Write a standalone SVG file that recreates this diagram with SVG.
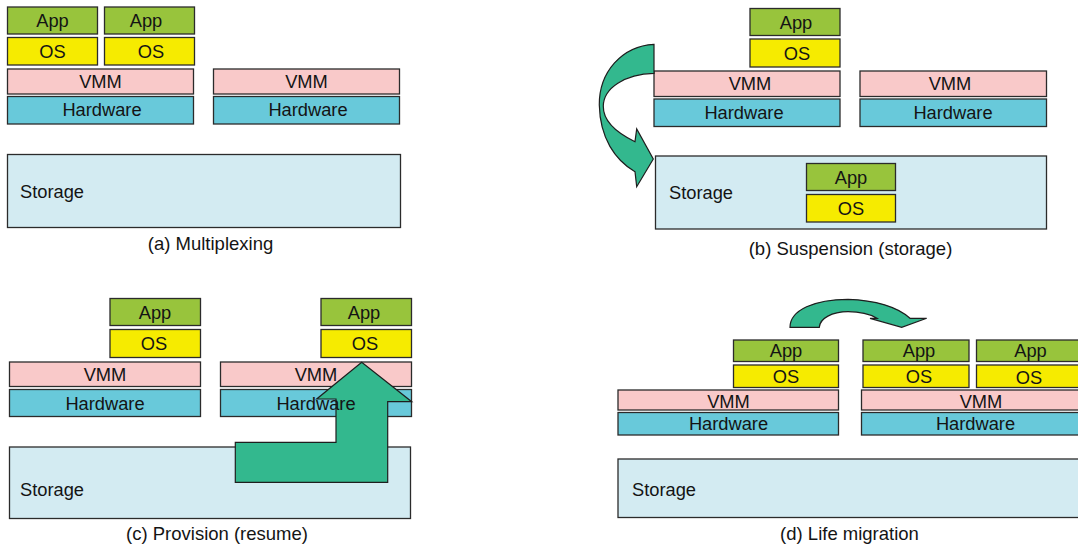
<svg xmlns="http://www.w3.org/2000/svg" width="1078" height="546" viewBox="0 0 1078 546">
<style>
g rect{stroke:#2b2b2b;stroke-width:1.3}
.app{fill:#98c43c}
.os{fill:#f6eb00}
.vmm{fill:#f9c9c9}
.hw{fill:#68c9da}
.st{fill:#d3ebf2}
text{font-family:"Liberation Sans",Arial,sans-serif;font-size:18.3px;fill:#141414}
.c{text-anchor:middle}
.cap{font-size:18.5px;text-anchor:middle}
.arr{fill:#33b88e;stroke:#1e1e1e;stroke-width:1.2;stroke-linejoin:miter}
</style>
<rect x="0" y="0" width="1078" height="546" fill="#ffffff"/>

<!-- (a) Multiplexing -->
<g id="a-storage"><rect class="st" x="7.5" y="154.5" width="393" height="73"/><text x="20" y="197.5">Storage</text></g>
<g id="a-hw1"><rect class="hw" x="7.5" y="96.5" width="186" height="27.5"/><text class="c" x="102" y="116">Hardware</text></g>
<g id="a-vmm1"><rect class="vmm" x="7.5" y="69" width="186" height="25"/><text class="c" x="100.5" y="87.5">VMM</text></g>
<g id="a-app1"><rect class="app" x="7.5" y="7" width="90" height="27"/><text class="c" x="52.5" y="27">App</text></g>
<g id="a-os1"><rect class="os" x="7.5" y="37.5" width="90" height="27.5"/><text class="c" x="52.5" y="57.5">OS</text></g>
<g id="a-app2"><rect class="app" x="104.5" y="7" width="90" height="27"/><text class="c" x="146" y="27">App</text></g>
<g id="a-os2"><rect class="os" x="104.5" y="37.5" width="90" height="27.5"/><text class="c" x="151" y="57.5">OS</text></g>
<g id="a-vmm2"><rect class="vmm" x="213.5" y="69" width="186" height="25"/><text class="c" x="306.5" y="87.5">VMM</text></g>
<g id="a-hw2"><rect class="hw" x="213.5" y="96.5" width="186" height="27.5"/><text class="c" x="308" y="116">Hardware</text></g>
<text class="cap" x="210.5" y="250">(a) Multiplexing</text>

<!-- (b) Suspension -->
<g id="b-storage"><rect class="st" x="655.5" y="156" width="391" height="73"/><text x="669" y="199">Storage</text></g>
<g id="b-app-st"><rect class="app" x="806.5" y="163.5" width="89" height="27"/><text class="c" x="851" y="183.5">App</text></g>
<g id="b-os-st"><rect class="os" x="806.5" y="194.5" width="89" height="27.5"/><text class="c" x="851" y="214.5">OS</text></g>
<g id="b-app"><rect class="app" x="750" y="8.5" width="90" height="27"/><text class="c" x="796" y="28.5">App</text></g>
<g id="b-os"><rect class="os" x="750" y="39" width="90" height="28"/><text class="c" x="797" y="59.5">OS</text></g>
<g id="b-vmm1"><rect class="vmm" x="654" y="71" width="186" height="25.5"/><text class="c" x="750" y="90">VMM</text></g>
<g id="b-hw1"><rect class="hw" x="654" y="99" width="186" height="27.5"/><text class="c" x="744" y="119">Hardware</text></g>
<g id="b-vmm2"><rect class="vmm" x="860" y="71" width="186.5" height="25.5"/><text class="c" x="950" y="90">VMM</text></g>
<g id="b-hw2"><rect class="hw" x="860" y="99" width="186.5" height="27.5"/><text class="c" x="953" y="119">Hardware</text></g>
<text class="cap" x="850.5" y="255">(b) Suspension (storage)</text>

<!-- (c) Provision -->
<g id="c-storage"><rect class="st" x="9.5" y="447" width="401" height="71.5"/><text x="20" y="496">Storage</text></g>
<g id="c-app1"><rect class="app" x="110" y="298.5" width="90.5" height="27"/><text class="c" x="155" y="318.5">App</text></g>
<g id="c-os1"><rect class="os" x="110" y="329.5" width="90.5" height="28"/><text class="c" x="154" y="350">OS</text></g>
<g id="c-vmm1"><rect class="vmm" x="9.5" y="362" width="191" height="24.5"/><text class="c" x="105" y="381">VMM</text></g>
<g id="c-hw1"><rect class="hw" x="9.5" y="389.5" width="191" height="27"/><text class="c" x="105" y="410">Hardware</text></g>
<g id="c-app2"><rect class="app" x="321" y="298.5" width="90.5" height="27"/><text class="c" x="364" y="318.5">App</text></g>
<g id="c-os2"><rect class="os" x="321" y="329.5" width="90.5" height="28"/><text class="c" x="365" y="350">OS</text></g>
<g id="c-vmm2"><rect class="vmm" x="220.5" y="362" width="191" height="24.5"/><text class="c" x="316" y="381">VMM</text></g>
<g id="c-hw2"><rect class="hw" x="220.5" y="389.5" width="191" height="27"/></g>
<text class="cap" x="217" y="540">(c) Provision (resume)</text>

<!-- (d) Life migration -->
<g id="d-storage"><rect class="st" x="618" y="459" width="475" height="58.5"/><text x="632" y="496">Storage</text></g>
<g id="d-vmm1"><rect class="vmm" x="618" y="390" width="220.5" height="20"/><text class="c" x="728.5" y="408">VMM</text></g>
<g id="d-hw1"><rect class="hw" x="618" y="412.5" width="220.5" height="22.5"/><text class="c" x="728.5" y="430">Hardware</text></g>
<g id="d-app1"><rect class="app" x="733.5" y="340" width="105" height="21.5"/><text class="c" x="786" y="357">App</text></g>
<g id="d-os1"><rect class="os" x="733.5" y="365" width="105" height="22.5"/><text class="c" x="786" y="382.5">OS</text></g>
<g id="d-vmm2"><rect class="vmm" x="861.5" y="390" width="235" height="20"/><text class="c" x="981" y="408">VMM</text></g>
<g id="d-hw2"><rect class="hw" x="861.5" y="412.5" width="235" height="22.5"/><text class="c" x="975.5" y="430">Hardware</text></g>
<g id="d-app2"><rect class="app" x="863" y="340" width="106" height="21.5"/><text class="c" x="919" y="357">App</text></g>
<g id="d-os2"><rect class="os" x="863" y="365" width="106" height="22.5"/><text class="c" x="919" y="382.5">OS</text></g>
<g id="d-app3"><rect class="app" x="976.5" y="340" width="108" height="21.5"/><text class="c" x="1030.5" y="357">App</text></g>
<g id="d-os3"><rect class="os" x="976.5" y="365" width="108" height="22.5"/><text class="c" x="1029" y="384">OS</text></g>
<text class="cap" x="849.5" y="540">(d) Life migration</text>

<!-- connectors -->
<g id="connectors">
<path class="arr" d="M654,44.3 C622,46 599,72 599.3,105 C600,138 615,160 635,171.7 L636.7,186.7 L653.3,159 L636.7,129 L635,141.7 C615,132 603,120 603.3,106 C603.5,88 625,74 654,73.3 Z"/>
<path class="arr" d="M235.3,442.3 L336,442.3 L336,399 L316.7,399 L361.7,362.3 L411.7,401.7 L387.7,401.7 L387.7,482.3 L235.3,482.3 Z"/>
<path class="arr" d="M790,327.3 C790,310 815,299.3 848,299.3 C875,300 898,307 910,318.3 L926.7,318.3 L901.7,327.3 L870,318.3 L877,318.3 C868,313 858,311.7 848,311.7 C832,312 820,318 819.3,327.3 Z"/>
</g>
<g id="c-hw2-label"><text class="c" x="316" y="410">Hardware</text></g>
</svg>
